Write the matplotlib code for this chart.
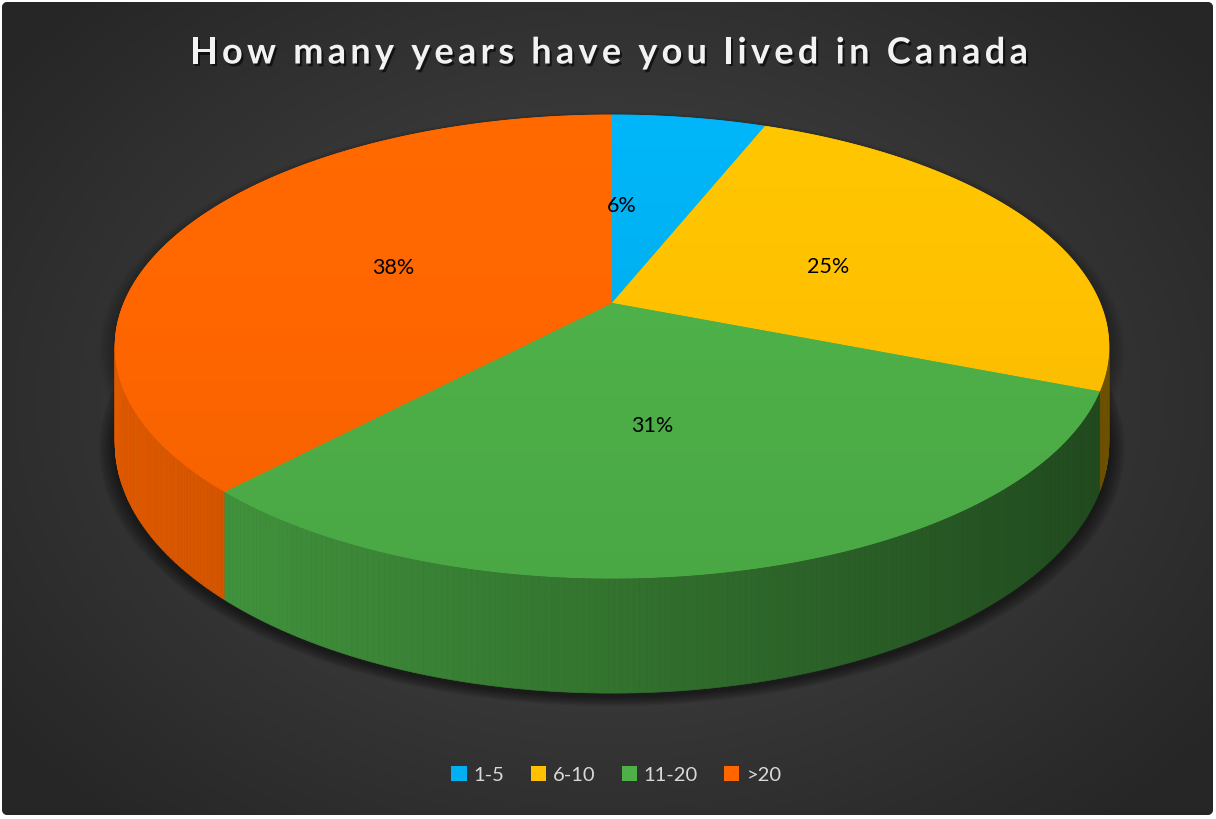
import numpy as np
import matplotlib.pyplot as plt
import matplotlib.patheffects as pe
from matplotlib.patches import Polygon, FancyBboxPatch, Patch
from matplotlib.collections import PolyCollection
from matplotlib.colors import to_rgb

# data
labels = ['1-5', '6-10', '11-20', '>20']
shares = [6, 25, 31, 38]
colors = ['#00B0F0', '#FFC000', '#4EB048', '#FF6600']
title = 'How many years have you lived in Canada'

W, H = 1216, 819
fig = plt.figure(figsize=(W / 100, H / 100), dpi=100)
fig.patch.set_facecolor('white')
ax = fig.add_axes([0, 0, 1, 1])
ax.set_xlim(0, W)
ax.set_ylim(H, 0)
ax.axis('off')

# dark rounded panel with radial gradient
panel = FancyBboxPatch((2, 2), W - 5, H - 6, boxstyle='round,pad=0,rounding_size=6',
                       facecolor='#2a2a2a', edgecolor='none', zorder=0)
ax.add_patch(panel)
yy, xx = np.mgrid[0:H, 0:W]
r = np.clip(np.hypot((xx - 610) / 760, (yy - 400) / 560), 0, 1)
g = 0.29 - 0.14 * r
bg = ax.imshow(np.dstack([g, g, g]), extent=(0, W, H, 0), zorder=1, interpolation='bilinear')
bg.set_clip_path(panel)

# pseudo 3d projection of the pie
cx, cy = 612, 303
sx, B, C, T = 488, -166.4, 0.188, 93.4


def top(u, v):
    return cx + sx * u / (1 + C * v), (cy + B * v) / (1 + C * v)


def bottom(u, v):
    x, y = top(u, v)
    return x, y + T / (1 + C * v)


total = sum(shares)
edges = np.cumsum([0] + shares) / total * 2 * np.pi

# soft shadow under the pie
ph = np.linspace(0, 2 * np.pi, 400)
bx, by = bottom(np.sin(ph), np.cos(ph))
tx, ty = top(np.sin(ph), np.cos(ph))
for k in range(1, 9):
    f = 1 + 0.004 * k
    ax.fill(cx + (bx - cx) * f, by + 3 + (by - 380) * 0.004 * k, color='black', alpha=0.07, lw=0, zorder=2)
    ax.fill(cx + (tx - cx) * f, ty + 3 + (ty - 300) * 0.004 * k, color='black', alpha=0.04, lw=0, zorder=2)

# side walls
polys, fcs, depth = [], [], []
for i in range(len(shares)):
    ang = np.linspace(edges[i], edges[i + 1], max(4, shares[i] * 6))
    base = np.array(to_rgb(colors[i]))
    for a0, a1 in zip(ang[:-1], ang[1:]):
        u = np.sin([a0, a1])
        v = np.cos([a0, a1])
        tx0, ty0 = top(u, v)
        bx0, by0 = bottom(u, v)
        polys.append([(tx0[0], ty0[0]), (tx0[1], ty0[1]), (bx0[1], by0[1]), (bx0[0], by0[0])])
        xm = tx0.mean()
        shade = 0.88 - 0.46 * (xm - 115) / 995
        fcs.append(np.clip(base * shade, 0, 1))
        depth.append(v.mean())
order = np.argsort(depth)[::-1]
walls = PolyCollection([polys[j] for j in order], facecolors=[fcs[j] for j in order],
                       edgecolors=[fcs[j] for j in order], linewidths=0.5, zorder=3)
ax.add_collection(walls)

# top faces, with a faint vertical gradient
for i in range(len(shares)):
    ang = np.linspace(edges[i], edges[i + 1], max(4, shares[i] * 4))
    x, y = top(np.sin(ang), np.cos(ang))
    pts = [(cx, cy)] + list(zip(x, y))
    face = Polygon(pts, closed=True, facecolor=colors[i], edgecolor=colors[i], lw=0.6, zorder=4)
    ax.add_patch(face)
    base = np.array(to_rgb(colors[i]))
    grad = np.linspace(1.04, 0.95, 120)[:, None, None] * base[None, None, :]
    im = ax.imshow(np.clip(np.repeat(grad, 2, axis=1), 0, 1), extent=(100, 1120, 600, 110),
                   zorder=4.1, interpolation='bilinear', aspect='auto')
    im.set_clip_path(face)
ax.set_xlim(0, W)
ax.set_ylim(H, 0)

# percentage labels
label_pos = [(622, 206), (828, 267), (652, 426), (393, 268)]
for (lx, ly), s in zip(label_pos, shares):
    ax.text(lx, ly, f'{s}%', ha='center', va='center', fontsize=15.5, color='black',
            family=['Lato', 'DejaVu Sans'], zorder=5)

# title, letter-spaced by placing characters one by one
tkw = dict(fontsize=26, fontweight='bold', family=['Lato', 'DejaVu Sans'])
renderer = fig.canvas.get_renderer()
probe = ax.text(0, 0, '', **tkw)


def width_of(s):
    probe.set_text(s + '|')
    w1 = probe.get_window_extent(renderer).width
    probe.set_text('|')
    return w1 - probe.get_window_extent(renderer).width


full = width_of(title)
spacing = (838 - full) / (len(title) - 1)
x0 = 190
for i, ch in enumerate(title):
    if ch == ' ':
        continue
    xi = x0 + width_of(title[:i]) + i * spacing
    ax.text(xi, 50, ch, ha='left', va='center_baseline', color='#F2F2F2', zorder=5, **tkw,
            path_effects=[pe.SimplePatchShadow(offset=(1.5, -2), shadow_rgbFace='black', alpha=0.6),
                          pe.Normal()])
probe.remove()

# legend
handles = [Patch(facecolor=c, edgecolor='none') for c in colors]
leg = fig.legend(handles, labels, loc='center', bbox_to_anchor=(0.507, 1 - 775 / H), ncol=4, frameon=False,
                 labelcolor='#D9D9D9', handlelength=0.75, handleheight=0.75,
                 handletextpad=0.35, columnspacing=1.3, prop={'family': ['Lato', 'DejaVu Sans'], 'size': 14.5})

fig.savefig('out.png', dpi=100, facecolor='white')
